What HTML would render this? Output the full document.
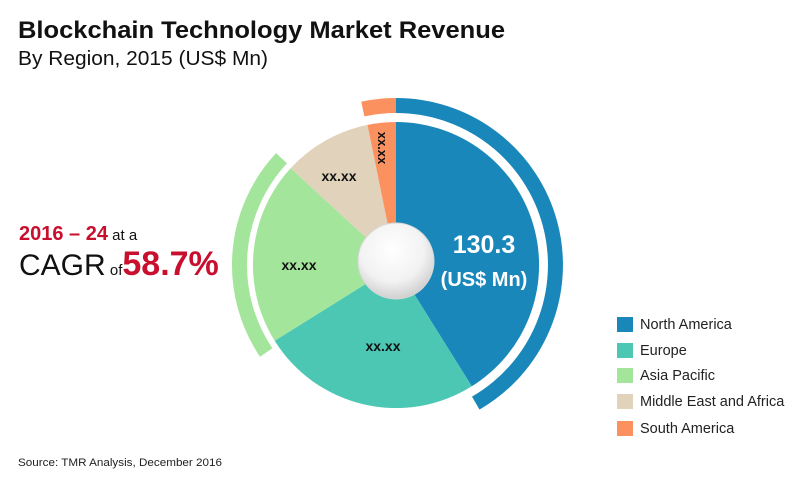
<!DOCTYPE html>
<html><head><meta charset="utf-8"><style>
body{margin:0;background:#fff;width:800px;height:477px;overflow:hidden;font-family:"Liberation Sans",sans-serif}
</style></head><body>
<svg width="800" height="477" viewBox="0 0 800 477" xmlns="http://www.w3.org/2000/svg">
<defs>
<radialGradient id="cg" cx="45%" cy="35%" r="70%">
<stop offset="0" stop-color="#ffffff"/><stop offset="0.6" stop-color="#f2f2f2"/><stop offset="1" stop-color="#c8c8c8"/>
</radialGradient>
</defs>
<text x="18" y="38" font-family="Liberation Sans, sans-serif" font-weight="bold" font-size="24" fill="#111" textLength="487" lengthAdjust="spacingAndGlyphs">Blockchain Technology Market Revenue</text>
<text x="18" y="65" font-family="Liberation Sans, sans-serif" font-size="20" fill="#111" textLength="250" lengthAdjust="spacingAndGlyphs">By Region, 2015 (US$ Mn)</text>

<path d="M396,265 L396,122 A143,143 0 0 1 471.8,386.3 Z" fill="#1a87bb"/>
<path d="M396,265 L471.8,386.3 A143,143 0 0 1 274.7,340.8 Z" fill="#4cc7b4"/>
<path d="M396,265 L274.7,340.8 A143,143 0 0 1 290.6,168.3 Z" fill="#a4e59c"/>
<path d="M396,265 L290.6,168.3 A143,143 0 0 1 367.5,124.9 Z" fill="#e1d2bb"/>
<path d="M396,265 L367.5,124.9 A143,143 0 0 1 396,122 Z" fill="#fb915f"/>

<path d="M396,105.5 A159.5,159.5 0 0 1 475.75,403.1" fill="none" stroke="#1a87bb" stroke-width="15"/>
<path d="M362.8,109 A159.5,159.5 0 0 1 396,105.5" fill="none" stroke="#fb915f" stroke-width="15"/>
<path d="M266.2,352.5 A156.5,156.5 0 0 1 281.5,158.3" fill="none" stroke="#a4e59c" stroke-width="15"/>

<circle cx="396" cy="261" r="38" fill="url(#cg)" stroke="#d8d8d8" stroke-width="1"/>

<g font-family="Liberation Sans, sans-serif" font-weight="bold" font-size="14" fill="#111" text-anchor="middle">
<text x="339" y="181">xx.xx</text>
<text x="299" y="270">xx.xx</text>
<text x="383" y="351">xx.xx</text>
<text transform="translate(378,148) rotate(90)" font-size="13">xx.xx</text>
</g>
<text x="484" y="253" font-family="Liberation Sans, sans-serif" font-weight="bold" font-size="25" fill="#fff" text-anchor="middle">130.3</text>
<text x="484" y="286" font-family="Liberation Sans, sans-serif" font-weight="bold" font-size="20" fill="#fff" text-anchor="middle">(US$ Mn)</text>

<text x="19" y="240" font-family="Liberation Sans, sans-serif" font-weight="bold" font-size="20" fill="#c8102e">2016 – 24<tspan font-weight="normal" font-size="15" fill="#111"> at a</tspan></text>
<text x="19" y="275" font-family="Liberation Sans, sans-serif" font-size="30" fill="#111">CAGR<tspan font-size="15"> of</tspan><tspan font-weight="bold" font-size="34" fill="#c8102e">58.7%</tspan></text>

<g font-family="Liberation Sans, sans-serif" font-size="14.5" fill="#222">
<rect x="617" y="317" width="16" height="15" fill="#1a87bb"/><text x="640" y="329">North America</text>
<rect x="617" y="343" width="16" height="15" fill="#4cc7b4"/><text x="640" y="355">Europe</text>
<rect x="617" y="368" width="16" height="15" fill="#a4e59c"/><text x="640" y="380">Asia Pacific</text>
<rect x="617" y="394" width="16" height="15" fill="#e1d2bb"/><text x="640" y="406">Middle East and Africa</text>
<rect x="617" y="421" width="16" height="15" fill="#fb915f"/><text x="640" y="433">South America</text>
</g>
<text x="18" y="466" font-family="Liberation Sans, sans-serif" font-size="11" fill="#222" textLength="204" lengthAdjust="spacingAndGlyphs">Source: TMR Analysis, December 2016</text>
</svg>
</body></html>
